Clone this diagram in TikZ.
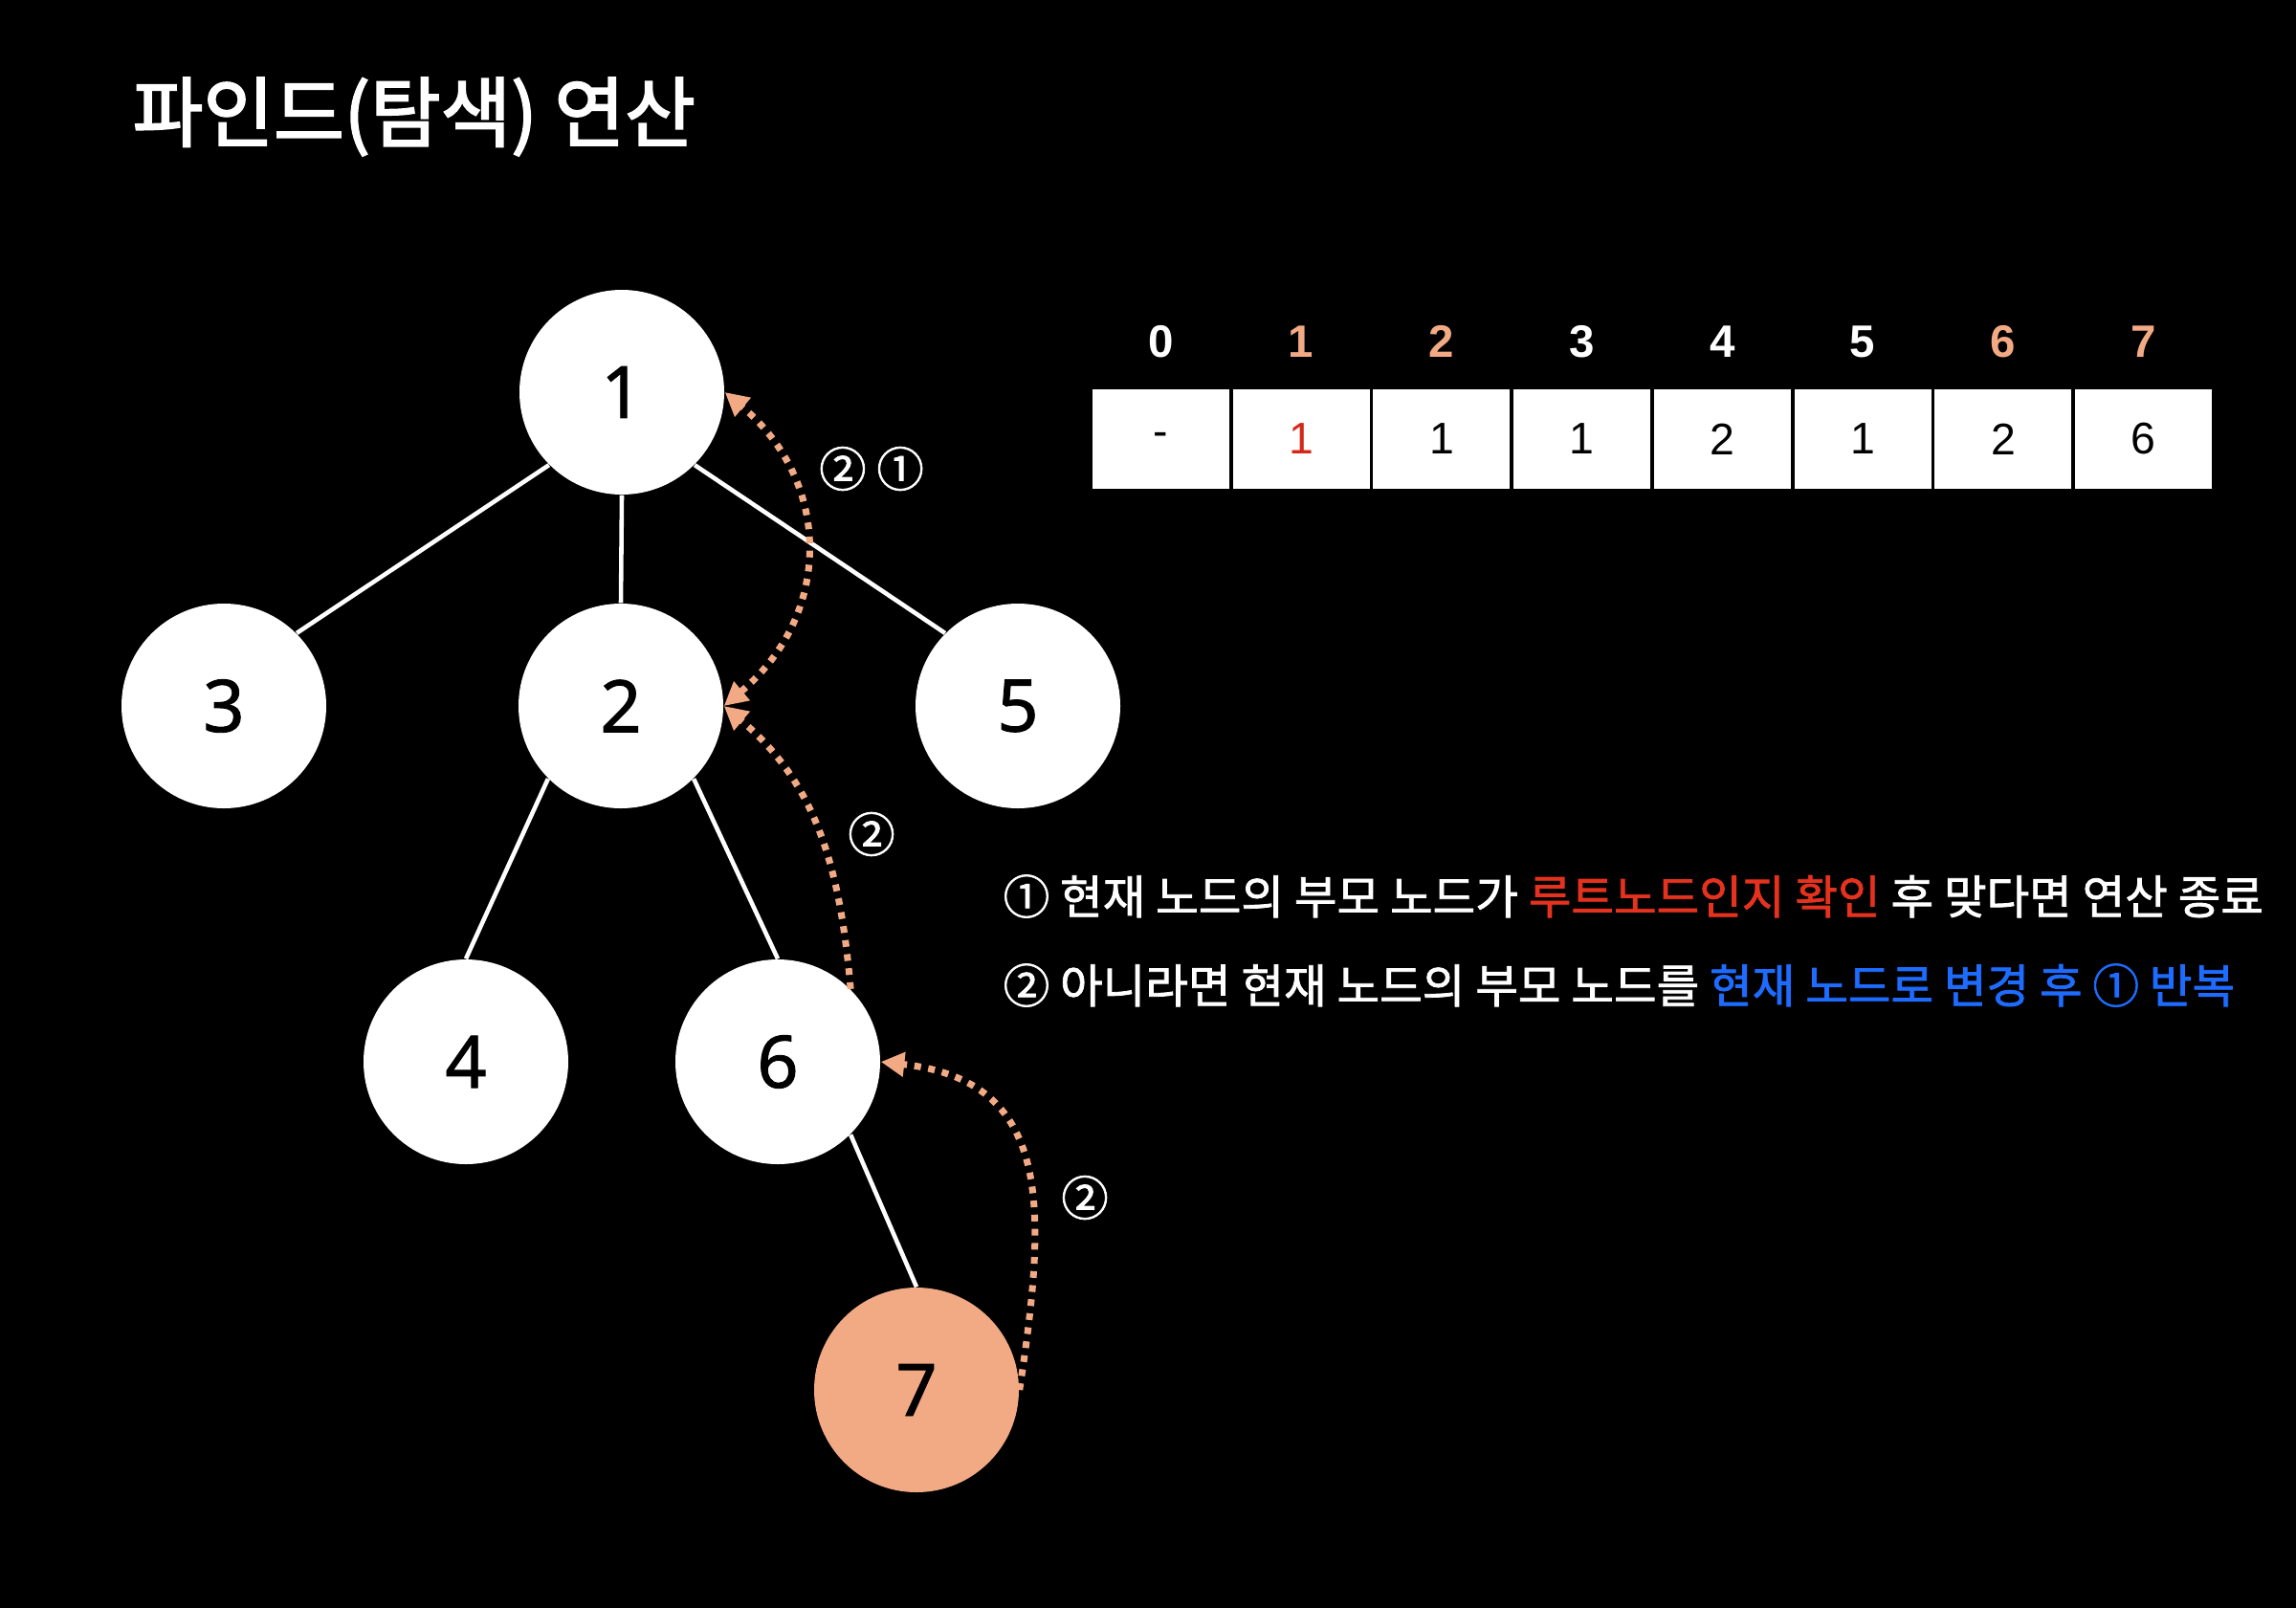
\documentclass[tikz,border=0pt]{standalone}
\usepackage{fontspec}
\setmainfont{Noto Sans CJK KR}
\newfontfamily\notefont[FakeBold=1.6]{Noto Sans CJK KR}
\newfontfamily\titlefont[FakeBold=2.4]{Noto Sans CJK KR}
\newfontfamily\numfont[FakeBold=1.2]{Noto Sans}
\newfontfamily\tabfont{Liberation Sans}
\usetikzlibrary{arrows.meta,positioning}
\definecolor{peach}{RGB}{242,170,132}
\definecolor{hlred}{RGB}{228,50,30}
\definecolor{hlblue}{RGB}{30,108,255}
\definecolor{tabred}{RGB}{212,40,25}
\tikzset{
  tnode/.style={circle, fill=white, minimum size=2.14cm, inner sep=0pt,
    font=\numfont\fontsize{21.5}{21.5}\selectfont},
  treeline/.style={white, line width=1.3pt},
  hop/.style={peach, line width=2pt, dash pattern=on 2pt off 2.2pt,
    -{Triangle[length=7pt,width=7pt]}},
  cell/.style={fill=white, minimum width=1.43cm, minimum height=1.04cm,
    inner sep=0pt, font=\tabfont\fontsize{13.2}{13.2}\selectfont},
  idx/.style={inner sep=0pt, font=\tabfont\bfseries\fontsize{13.5}{13.5}\selectfont},
  steplabel/.style={white, font=\notefont\fontsize{14}{14}\selectfont},
  note/.style={white, anchor=west, inner sep=0pt, font=\notefont\fontsize{13.8}{16}\selectfont},
}

\begin{document}
\begin{tikzpicture}
\useasboundingbox (0,0) rectangle (24,-16.8);
\fill[black] (-0.2,0.2) rectangle (24.2,-17);

% title
\node[white, anchor=west, inner sep=0pt, font=\titlefont\fontsize{22.8}{27}\selectfont] (title) at (1.38,-1.22) {파인드(탐색) 연산};

% tree
\node[tnode] (n1) at (6.50,-4.10) {1};
\node[tnode] (n3) at (2.34,-7.38) {3};
\node[tnode] (n2) at (6.49,-7.38) {2};
\node[tnode] (n5) at (10.64,-7.38) {5};
\node[tnode] (n4) at (4.87,-11.10) {4};
\node[tnode] (n6) at (8.13,-11.10) {6};
\node[tnode, fill=peach] (n7) at (9.58,-14.53) {7};

\draw[treeline] (n1.-135) -- (n3.45);
\draw[treeline] (n1.south) -- (n2.north);
\draw[treeline] (n1.-45) -- (n5.135);
\draw[treeline] (n2.-135) -- (n4.north);
\draw[treeline] (n2.-45) -- (n6.north);
\draw[treeline] (n6.-45) -- (n7.north);

% find path
\draw[hop] (n7.east) .. controls (10.95,-12.6) and (11.0,-11.3) .. (n6.east);
\draw[hop] (n6.45) to[out=95, in=-40] (n2.east);
\draw[hop, {Triangle[length=7pt,width=7pt]}-{Triangle[length=7pt,width=7pt]}] (n2.east) to[out=40, in=-40, looseness=1.15] (n1.east);

\node[steplabel] (s21) at (9.11,-4.90) {② ①};
\node[steplabel] (s2a) at (9.11,-8.72) {②};
\node[steplabel] (s2b) at (11.34,-12.52) {②};

% parent table
\foreach \i/\v/\hc/\vc in {0/-/white/black, 1/1/peach/tabred, 2/1/peach/black,
    3/1/white/black, 4/2/white/black, 5/1/white/black, 6/2/peach/black, 7/6/peach/black}{
  \node[cell, text=\vc] (c\i) at ({12.134+1.4675*\i},-4.59) {\v};
  \node[idx, text=\hc] (h\i) at ({12.134+1.4675*\i},-3.57) {\i};
}

% notes
\node[note] (rule1) at (10.48,-9.37) {① 현재 노드의 부모 노드가 \textcolor{hlred}{루트노드인지 확인} 후 맞다면 연산 종료};
\node[note] (rule2) at (10.48,-10.30) {② 아니라면 현재 노드의 부모 노드를 \textcolor{hlblue}{현재 노드로 변경 후 ① 반복}};

\end{tikzpicture}
\end{document}
